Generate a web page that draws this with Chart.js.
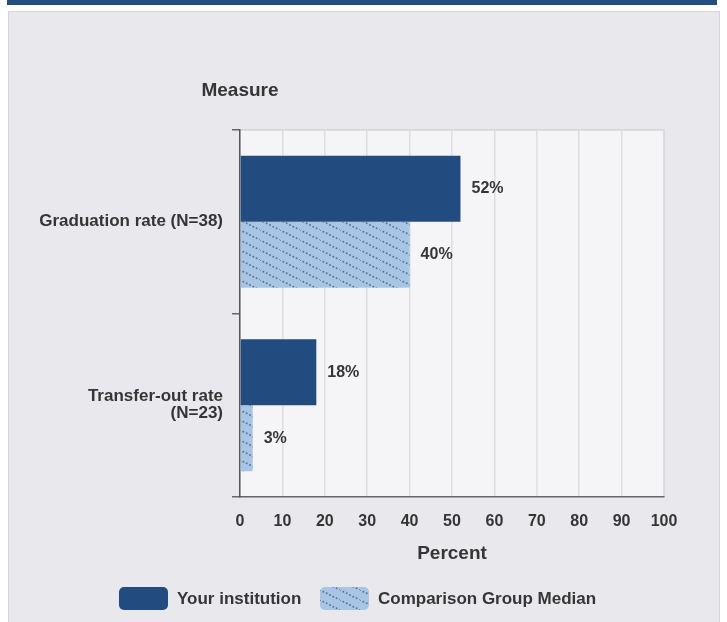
<!DOCTYPE html>
<html>
<head>
<meta charset="utf-8">
<script src="https://cdn.jsdelivr.net/npm/chart.js@4.4.1/dist/chart.umd.min.js"></script>
<style>
  html, body { margin: 0; padding: 0; background: #ffffff; }
  #wrap { position: relative; width: 727px; height: 622px; overflow: hidden; }
  #band { position: absolute; left: 7px; top: 0; width: 710px; height: 5px; background: #234e7e; }
  #panel { position: absolute; left: 8px; top: 11px; width: 710px; height: 620px; background: #e9e9ed; border: 1px solid #d6d6d9; }
  #c { position: absolute; left: 0; top: 0; }
</style>
</head>
<body>
<div id="wrap">
  <div id="band"></div>
  <div id="panel"></div>
  <canvas id="c" width="727" height="622"></canvas>
</div>
<script>
const categories = [["Graduation rate (N=38)"], ["Transfer-out rate", "(N=23)"]];
const seriesNames = ["Your institution", "Comparison Group Median"];
const yourInstitution = [52, 18];
const comparisonMedian = [40, 3];
const xTicks = [0, 10, 20, 30, 40, 50, 60, 70, 80, 90, 100];

const DARK = "#224b7f";
const LIGHT = "#a9c5e6";
const FONT = "'Liberation Sans', Arial, sans-serif";
const TEXT = "#353535";

function makeHatch() {
  const c = document.createElement("canvas");
  c.width = 20; c.height = 10;
  const g = c.getContext("2d");
  g.fillStyle = LIGHT;
  g.fillRect(0, 0, 20, 10);
  g.fillStyle = "#587a90";
  for (let x = 0; x < 20; x += 3.33) {
    const y = x * 0.5;
    g.beginPath();
    g.arc(x, y, 1.0, 0, Math.PI * 2);
    g.fill();
  }
  return g.createPattern(c, "repeat");
}
const hatch = makeHatch();

const bgPlugin = {
  id: "plotBg",
  beforeDraw(chart) {
    const { ctx, chartArea: a } = chart;
    ctx.save();
    ctx.fillStyle = "#f5f5f8";
    ctx.fillRect(a.left, a.top, a.right - a.left, a.bottom - a.top);
    ctx.strokeStyle = "#d4d4d8";
    ctx.lineWidth = 1.5;
    ctx.beginPath();
    ctx.moveTo(a.left, a.top);
    ctx.lineTo(a.right, a.top);
    ctx.lineTo(a.right, a.bottom);
    ctx.stroke();
    ctx.restore();
  }
};

const labelPlugin = {
  id: "valueLabels",
  afterDatasetsDraw(chart) {
    const ctx = chart.ctx;
    ctx.save();
    ctx.font = "bold 16px " + FONT;
    ctx.fillStyle = TEXT;
    ctx.textBaseline = "middle";
    ctx.textAlign = "left";
    chart.data.datasets.forEach((ds, i) => {
      chart.getDatasetMeta(i).data.forEach((bar, j) => {
        ctx.fillText(ds.data[j] + "%", bar.x + 11, bar.y);
      });
    });
    ctx.restore();
  }
};

const extraTextPlugin = {
  id: "extraText",
  afterDraw(chart) {
    const ctx = chart.ctx;
    const a = chart.chartArea;
    ctx.save();
    ctx.font = "bold 19px " + FONT;
    ctx.fillStyle = TEXT;
    ctx.textBaseline = "middle";
    ctx.textAlign = "center";
    ctx.fillText("Measure", a.left, 91);
    // legend
    ctx.font = "bold 17px " + FONT;
    const items = [
      { color: DARK, text: seriesNames[0], x: 119 },
      { color: hatch, text: seriesNames[1], x: 320 }
    ];
    const y = 587, h = 23, w = 49;
    items.forEach(it => {
      ctx.fillStyle = it.color;
      ctx.beginPath();
      ctx.roundRect(it.x, y, w, h, 5);
      ctx.fill();
      ctx.fillStyle = TEXT;
      ctx.textAlign = "left";
      ctx.fillText(it.text, it.x + w + 9, y + h / 2 + 1);
    });
    ctx.restore();
  }
};

new Chart(document.getElementById("c"), {
  type: "bar",
  data: {
    labels: categories,
    datasets: [
      { label: seriesNames[0], data: yourInstitution, backgroundColor: DARK, borderWidth: 0, categoryPercentage: 0.72, barPercentage: 1.0 },
      { label: seriesNames[1], data: comparisonMedian, backgroundColor: hatch, borderWidth: 0, categoryPercentage: 0.72, barPercentage: 1.0 }
    ]
  },
  options: {
    indexAxis: "y",
    responsive: false,
    animation: false,
    layout: { padding: { left: 0, right: 63, top: 130, bottom: 0 } },
    plugins: { legend: { display: false }, tooltip: { enabled: false } },
    scales: {
      x: {
        min: 0, max: 100,
        afterBuildTicks(scale) { scale.ticks = xTicks.map(v => ({ value: v })); },
        afterFit(scale) { scale.height = 125; },
        grid: { color: "#dedee2", lineWidth: 1.5, drawTicks: false },
        border: { display: true, color: "#666666", width: 1.5 },
        ticks: { color: TEXT, font: { family: FONT, size: 16, weight: "bold" }, padding: 15 },
        title: { display: true, text: "Percent", color: TEXT, font: { family: FONT, size: 19, weight: "bold" }, padding: { top: 10, bottom: 57 } }
      },
      y: {
        afterFit(scale) { scale.width = 240; },
        grid: { drawOnChartArea: false, drawTicks: true, tickLength: 8, color: "#666666", lineWidth: 1.5 },
        border: { display: true, color: "#555555", width: 1.5 },
        ticks: { color: TEXT, font: { family: FONT, size: 17, weight: "bold", lineHeight: 1.0 }, padding: 9 }
      }
    }
  },
  plugins: [bgPlugin, labelPlugin, extraTextPlugin]
});
</script>
</body>
</html>
